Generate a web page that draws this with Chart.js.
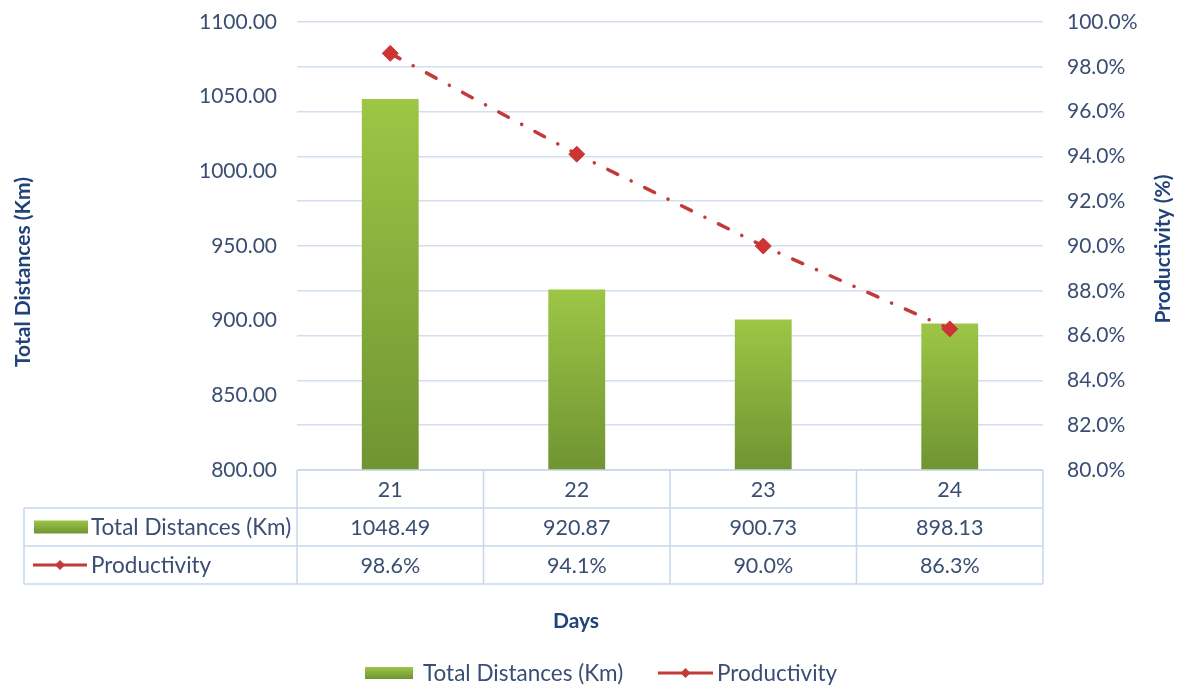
<!DOCTYPE html>
<html>
<head>
<meta charset="utf-8">
<script src="https://cdn.jsdelivr.net/npm/chart.js@4.4.1/dist/chart.umd.min.js"></script>
<style>
  html, body { margin: 0; padding: 0; background: #ffffff; }
  #wrap { width: 1178px; height: 688px; position: relative; }
</style>
</head>
<body>
<div id="wrap"><canvas id="c" width="1178" height="688"></canvas></div>
<script>
// Daily figures
const days = ['21', '22', '23', '24'];
const totalDistances = [1048.49, 920.87, 900.73, 898.13];
const productivity = [98.6, 94.1, 90.0, 86.3];

// Axis ranges
const distanceAxis = { min: 800, max: 1100, step: 50 };
const productivityAxis = { min: 80, max: 100, step: 2 };

// Labels
const seriesNames = ['Total Distances (Km)', 'Productivity'];
const xTitle = 'Days';
const yTitle = 'Total Distances (Km)';
const y1Title = 'Productivity (%)';

const FONT = 'Lato, "Open Sans", sans-serif';
const TEXT = '#3A4E74';
const TITLE = '#21437A';
const GRID = '#D3DFEE';
const RED = '#C23B38';
const GREEN_TOP = '#9DC646';
const GREEN_BOTTOM = '#6F9432';

function barGradient(ctx, top, bottom) {
  const g = ctx.createLinearGradient(0, top, 0, bottom);
  g.addColorStop(0, GREEN_TOP);
  g.addColorStop(1, GREEN_BOTTOM);
  return g;
}

function drawDiamond(ctx, x, y, r, color) {
  ctx.save();
  ctx.fillStyle = color;
  ctx.beginPath();
  ctx.moveTo(x, y - r);
  ctx.lineTo(x + r, y);
  ctx.lineTo(x, y + r);
  ctx.lineTo(x - r, y);
  ctx.closePath();
  ctx.fill();
  ctx.restore();
}

function drawLineKey(ctx, x0, x1, y) {
  ctx.save();
  ctx.strokeStyle = RED;
  ctx.lineWidth = 3;
  ctx.beginPath();
  ctx.moveTo(x0, y);
  ctx.lineTo(x1, y);
  ctx.stroke();
  ctx.restore();
  drawDiamond(ctx, (x0 + x1) / 2, y, 5, RED);
}

function drawBoxKey(ctx, x, y, w, h) {
  ctx.save();
  ctx.fillStyle = barGradient(ctx, y - h / 2, y + h / 2);
  ctx.fillRect(x, y - h / 2, w, h);
  ctx.restore();
}

// Keep the value axes from reserving extra room above the plot
function fixAxis(width) {
  return scale => {
    scale.width = width;
    scale.paddingTop = 12;
    scale.paddingBottom = 12;
  };
}

// Data table under the plot, axis titles and the legend
const tablePlugin = {
  id: 'dataTable',
  afterDraw(chart) {
    const ctx = chart.ctx;
    const area = chart.chartArea;
    const xs = chart.scales.x;
    const n = days.length;
    const colW = (area.right - area.left) / n;
    const rowH = 38;
    const top = area.bottom;
    const tableLeft = 24;

    ctx.save();
    ctx.strokeStyle = '#C8D7EB';
    ctx.lineWidth = 1.5;
    ctx.beginPath();
    ctx.moveTo(area.left, top);
    ctx.lineTo(area.right, top);
    for (let r = 1; r <= 3; r++) {
      ctx.moveTo(tableLeft, top + r * rowH);
      ctx.lineTo(area.right, top + r * rowH);
    }
    ctx.moveTo(tableLeft, top + rowH);
    ctx.lineTo(tableLeft, top + 3 * rowH);
    for (let i = 0; i <= n; i++) {
      const x = area.left + i * colW;
      ctx.moveTo(x, top);
      ctx.lineTo(x, top + 3 * rowH);
    }
    ctx.stroke();

    ctx.font = '21.5px ' + FONT;
    ctx.fillStyle = TEXT;
    ctx.textBaseline = 'middle';
    ctx.textAlign = 'center';
    for (let i = 0; i < n; i++) {
      const cx = xs.getPixelForValue(i);
      ctx.fillText(days[i], cx, top + rowH / 2 + 1);
      ctx.fillText(totalDistances[i].toFixed(2), cx, top + rowH * 1.5 + 1);
      ctx.fillText(productivity[i].toFixed(1) + '%', cx, top + rowH * 2.5 + 1);
    }

    // Row keys
    drawBoxKey(ctx, 34, top + rowH * 1.5, 54, 13);
    drawLineKey(ctx, 33, 87, top + rowH * 2.5);
    ctx.font = '22.5px ' + FONT;
    ctx.textAlign = 'left';
    ctx.fillStyle = TEXT;
    ctx.fillText(seriesNames[0], 91, top + rowH * 1.5 + 1);
    ctx.fillText(seriesNames[1], 91, top + rowH * 2.5 + 1);

    // Axis titles
    ctx.font = 'bold 21px ' + FONT;
    ctx.fillStyle = TITLE;
    ctx.textAlign = 'center';
    ctx.fillText(xTitle, 576, 621);
    ctx.save();
    ctx.translate(23, 272);
    ctx.rotate(-Math.PI / 2);
    ctx.fillText(yTitle, 0, 0);
    ctx.restore();
    ctx.save();
    ctx.translate(1163, 249);
    ctx.rotate(-Math.PI / 2);
    ctx.fillText(y1Title, 0, 0);
    ctx.restore();

    // Legend
    const ly = 673;
    drawBoxKey(ctx, 365, ly, 48, 12);
    drawLineKey(ctx, 658, 713, ly);
    ctx.font = '22.5px ' + FONT;
    ctx.fillStyle = TEXT;
    ctx.textAlign = 'left';
    ctx.fillText(seriesNames[0], 423, ly + 1);
    ctx.fillText(seriesNames[1], 717, ly + 1);
    ctx.restore();
  }
};

new Chart(document.getElementById('c'), {
  data: {
    labels: days,
    datasets: [
      {
        type: 'line',
        label: seriesNames[1],
        data: productivity,
        yAxisID: 'y1',
        borderColor: RED,
        borderWidth: 3.5,
        borderDash: [11, 15, 0.1, 15],
        borderCapStyle: 'round',
        pointStyle: 'rectRot',
        pointRadius: 8,
        pointBackgroundColor: '#CF3434',
        pointBorderColor: '#CF3434',
        pointBorderWidth: 1,
        tension: 0,
        order: 0
      },
      {
        type: 'bar',
        label: seriesNames[0],
        data: totalDistances,
        yAxisID: 'y',
        backgroundColor(ctx) {
          const chart = ctx.chart;
          const area = chart.chartArea;
          if (!area || ctx.raw === undefined) return GREEN_TOP;
          const top = chart.scales.y.getPixelForValue(ctx.raw);
          return barGradient(chart.ctx, top, area.bottom);
        },
        borderWidth: 0,
        categoryPercentage: 1,
        barPercentage: 0.305,
        order: 1
      }
    ]
  },
  options: {
    responsive: false,
    animation: false,
    layout: { padding: { top: 22, bottom: 218, left: 0, right: 0 } },
    plugins: {
      legend: { display: false },
      tooltip: { enabled: false }
    },
    scales: {
      x: {
        type: 'category',
        display: false,
        offset: true
      },
      y: {
        position: 'left',
        min: distanceAxis.min,
        max: distanceAxis.max,
        afterFit: fixAxis(297),
        border: { display: false },
        grid: { display: false, drawTicks: false },
        ticks: {
          stepSize: distanceAxis.step,
          padding: 20,
          color: TEXT,
          font: { family: FONT, size: 21 },
          callback: v => Number(v).toFixed(2)
        }
      },
      y1: {
        position: 'right',
        min: productivityAxis.min,
        max: productivityAxis.max,
        afterFit: fixAxis(135),
        border: { display: false },
        grid: { color: GRID, lineWidth: 1.5, drawTicks: false },
        ticks: {
          stepSize: productivityAxis.step,
          padding: 24,
          color: TEXT,
          font: { family: FONT, size: 21 },
          callback: v => Number(v).toFixed(1) + '%'
        }
      }
    }
  },
  plugins: [tablePlugin]
});
</script>
</body>
</html>
